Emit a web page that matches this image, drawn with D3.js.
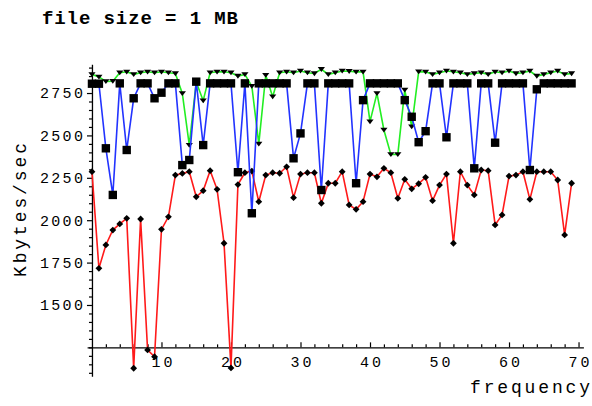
<!DOCTYPE html>
<html>
<head>
<meta charset="utf-8">
<script src="https://cdn.jsdelivr.net/npm/d3@7"></script>
<style>
  body { margin: 0; background: #fff; }
  svg { display: block; }
  text { font-family: "Liberation Mono", "DejaVu Sans Mono", monospace; fill: #000; }
</style>
</head>
<body>
<svg width="592" height="406"></svg>
<script>
// frequency values (x)
var frequency = [0,1,2,3,4,5,6,7,8,9,10,11,12,13,14,15,16,17,18,19,20,21,22,23,24,25,26,27,28,29,
  30,31,32,33,34,35,36,37,38,39,40,41,42,43,44,45,46,47,48,49,50,51,52,53,54,55,56,57,58,59,
  60,61,62,63,64,65,66,67,68,69];

// red series (small diamonds)
var redSeries = [2286,1716,1854,1942,1978,2011,1127,2007,1235,1195,
  1946,2020,2266,2276,2286,2138,2174,2292,2182,1864,
  1129,2210,2280,2290,2109,2266,2280,2277,2315,2133,
  2272,2280,2280,2100,2218,2218,2286,2090,2064,2109,
  2272,2256,2306,2280,2129,2241,2185,2215,2253,2115,
  2207,2272,1864,2286,2207,2149,2296,2292,1972,2031,
  2260,2266,2286,2123,2286,2286,2286,2237,1913,2218];

// blue series (big squares)
var blueSeries = [2805,2805,2424,2149,2807,2414,2719,2807,2807,2719,
  2752,2807,2807,2325,2355,2817,2443,2807,2807,2807,
  2807,2283,2807,2041,2807,2807,2807,2807,2807,2365,
  2512,2807,2807,2178,2807,2807,2807,2807,2218,2708,
  2807,2807,2807,2807,2807,2708,2610,2460,2525,2807,
  2807,2489,2807,2807,2807,2306,2807,2807,2457,2807,
  2807,2807,2807,2296,2772,2807,2807,2807,2807,2807];

// green series (small triangles)
var greenSeries = [2860,2845,2818,2820,2870,2875,2860,2870,2875,2870,
  2875,2870,2865,2748,2443,2815,2705,2870,2875,2875,
  2870,2850,2860,2790,2450,2855,2728,2870,2875,2870,
  2880,2870,2865,2890,2860,2870,2880,2878,2875,2875,
  2581,2748,2532,2388,2388,2768,2551,2876,2875,2860,
  2870,2880,2875,2870,2860,2865,2870,2860,2875,2870,
  2880,2865,2870,2880,2850,2860,2870,2880,2860,2865];

var yLabels = [1500,1750,2000,2250,2500,2750];
var xLabels = [10,20,30,40,50,60,70];
var yMinor = [1100,1150,1200,1250,1300,1350,1400,1450,1550,1600,1650,1700,1800,1850,1900,1950,
  2050,2100,2150,2200,2300,2350,2400,2450,2550,2600,2650,2700,2800,2850,2900];
var xMinor = [2,4,6,8,12,14,16,18,22,24,26,28,32,34,36,38,42,44,46,48,52,54,56,58,62,64,66,68];

var svg = d3.select("svg");

var x = d3.scaleLinear().domain([-0.7, 70.7]).range([87.1, 583.4]);
var y = d3.scaleLinear().domain([1080, 2920]).range([376.2, 64.2]);

var x0 = x(0), y0 = y(1250);

// title
svg.append("text")
    .attr("x", 42).attr("y", 24)
    .attr("font-size", 19).attr("font-weight", "bold")
    .attr("textLength", 196).attr("lengthAdjust", "spacing")
    .text("file size = 1 MB");

// y axis, ticks to the left
var yAxis = svg.append("g").attr("transform", "translate(" + x0 + ",0)")
    .call(d3.axisLeft(y).tickValues(yLabels).tickFormat(d3.format("d"))
        .tickSizeInner(5).tickSizeOuter(0).tickPadding(4));
yAxis.select(".domain").attr("stroke", "#000").attr("stroke-width", 1.3);
yAxis.selectAll("text")
    .attr("font-size", 15)
    .attr("textLength", 43).attr("lengthAdjust", "spacing");
svg.append("g").attr("transform", "translate(" + x0 + ",0)")
    .call(d3.axisLeft(y).tickValues(yMinor).tickSize(3).tickFormat(""))
    .select(".domain").remove();

// x axis, ticks upward
var xAxis = svg.append("g").attr("transform", "translate(0," + y0 + ")")
    .call(d3.axisBottom(x).tickValues(xLabels).tickFormat(d3.format("d"))
        .tickSizeInner(-5).tickSizeOuter(0).tickPadding(9));
xAxis.select(".domain").attr("stroke", "#000").attr("stroke-width", 1.3);
xAxis.selectAll("text")
    .attr("font-size", 15)
    .attr("textLength", 21).attr("lengthAdjust", "spacing");
svg.append("g").attr("transform", "translate(0," + y0 + ")")
    .call(d3.axisTop(x).tickValues(xMinor).tickSize(3).tickFormat(""))
    .select(".domain").remove();

svg.selectAll(".tick line").attr("stroke", "#000").attr("stroke-width", 1.2);

// axis titles
svg.append("text")
    .attr("transform", "translate(26,210) rotate(-90)")
    .attr("text-anchor", "middle")
    .attr("font-size", 18)
    .attr("textLength", 134).attr("lengthAdjust", "spacing")
    .text("Kbytes/sec");

svg.append("text")
    .attr("x", 470).attr("y", 393)
    .attr("font-size", 18)
    .attr("textLength", 120).attr("lengthAdjust", "spacing")
    .text("frequency");

// series
var series = [
  { name: "red", values: redSeries, color: "#ff1a1a", marker: "diamond" },
  { name: "green", values: greenSeries, color: "#22ee22", marker: "triangle" },
  { name: "blue", values: blueSeries, color: "#2233ff", marker: "square" }
];

var line = d3.line()
    .x(function (d, i) { return x(frequency[i]); })
    .y(function (d) { return y(d); });

function markerPath(type) {
  if (type === "diamond") return "M0,-3.4L3.4,0L0,3.4L-3.4,0Z";
  if (type === "triangle") return "M-3.6,-2.2L3.6,-2.2L0,2.6Z";
  return "M-4.2,-4.2L4.2,-4.2L4.2,4.2L-4.2,4.2Z";
}

series.forEach(function (s) {
  var g = svg.append("g").attr("class", "series-" + s.name);
  g.append("path")
      .datum(s.values)
      .attr("fill", "none")
      .attr("stroke", s.color)
      .attr("stroke-width", 1.6)
      .attr("d", line);
  g.selectAll("path.mark")
      .data(s.values)
      .enter().append("path")
      .attr("class", "mark")
      .attr("fill", "#000")
      .attr("transform", function (d, i) { return "translate(" + x(frequency[i]) + "," + y(d) + ")"; })
      .attr("d", markerPath(s.marker));
});
</script>
</body>
</html>
